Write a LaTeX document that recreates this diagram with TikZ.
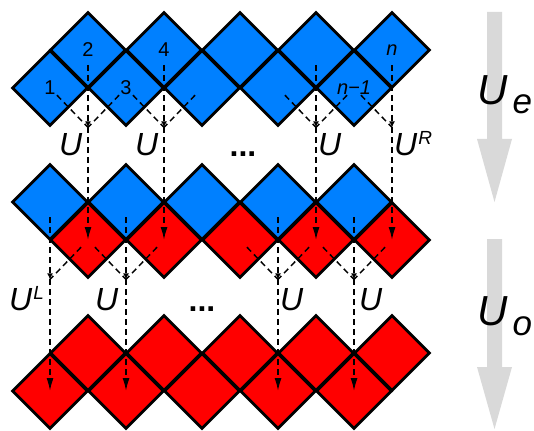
\documentclass[tikz,border=0pt]{standalone}
\usepackage{fontspec}
\setmainfont{Liberation Sans}
\usepackage{tikz}
\usetikzlibrary{
    arrows.meta,
    calc,
    shapes.geometric
}
\definecolor{siteBlue}{RGB}{0, 128, 255}
\definecolor{siteRed}{RGB}{255, 0, 0}
\definecolor{stepGray}{RGB}{217, 217, 217}

\tikzset{
    site/.style={diamond, draw=black, line width=2.8pt, inner sep=0pt,
        minimum width=76pt, minimum height=76pt, font=\fontsize{20}{20}\selectfont},
    link/.style={line width=1.5pt, dash pattern=on 6pt off 4pt},
    meetTip/.style={-{Latex[length=6pt, width=6pt]}},
    dropTip/.style={-{Latex[length=13pt, width=7pt]}},
    glabel/.style={inner sep=0pt, anchor=base west, font=\fontsize{32}{32}\selectfont}
}

\begin{document}
\begin{tikzpicture}[x=1pt, y=-1pt]
    \useasboundingbox (0,0) rectangle (534,430);

    % three rows of sites: before U_e, between, after U_o
    \foreach \i/\lab in {1/1, 2/2, 3/3, 4/4, 5/{}, 6/{}, 7/{}, 8/{}, 9/{\textit{n−1}}, 10/{\textit{n}}} {
        \pgfmathsetmacro{\xc}{12+38*\i}
        \ifodd\i
            \node[site, fill=siteBlue] (t\i) at (\xc,88) {\lab};
            \node[site, fill=siteBlue] (m\i) at (\xc,202) {};
            \node[site, fill=siteRed] (b\i) at (\xc,391) {};
        \else
            \node[site, fill=siteBlue] (t\i) at (\xc,50) {\lab};
            \node[site, fill=siteRed] (m\i) at (\xc,240) {};
            \node[site, fill=siteRed] (b\i) at (\xc,353) {};
        \fi
    }

    % meeting points of the gates
    \foreach \k in {2,4,8,10}
        \coordinate (tg\k) at (t\k |- t1.south);
    \foreach \k in {1,3,7,9}
        \coordinate (mg\k) at (m\k |- m2.south);

    % U_e step
    \foreach \k/\l/\r in {2/1/3, 4/3/5, 8/7/9} {
        \draw[link, shorten <=10pt] (t\l.center) -- (tg\k);
        \draw[link, shorten <=10pt] (t\r.center) -- (tg\k);
    }
    \draw[link, shorten <=10pt] (t9.center) -- (tg10);
    \foreach \k in {2,4,8,10} {
        \draw[link, meetTip, shorten <=15pt] (t\k.center) -- (tg\k);
        \draw[link, dropTip] (tg\k) -- (m\k.center);
    }

    % U_o step
    \foreach \k/\l/\r in {3/2/4, 7/6/8, 9/8/10} {
        \draw[link, shorten <=10pt] (m\l.center) -- (mg\k);
        \draw[link, shorten <=10pt] (m\r.center) -- (mg\k);
    }
    \draw[link, shorten <=10pt] (m2.center) -- (mg1);
    \foreach \k in {1,3,7,9} {
        \draw[link, meetTip, shorten <=15pt] (m\k.center) -- (mg\k);
        \draw[link, dropTip] (mg\k) -- (b\k.center);
    }

    % gate labels
    \node[glabel] (ua) at (59,156) {\textit{U}};
    \node[glabel] (ub) at (135,156) {\textit{U}};
    \node[glabel] (uc) at (318,156) {\textit{U}};
    \node[glabel] (ur) at (394,156) {\textit{U}\hspace{1pt}\raisebox{11pt}{\fontsize{19}{19}\selectfont\textit{R}}};
    \node[glabel, anchor=base] (dta) at (243,157) {\textbf{...}};
    \node[glabel] (ul) at (9,310) {\textit{U}\hspace{1pt}\raisebox{11pt}{\fontsize{19}{19}\selectfont\textit{L}}};
    \node[glabel] (ud) at (95,310) {\textit{U}};
    \node[glabel] (uf) at (280,310) {\textit{U}};
    \node[glabel] (ug) at (359,310) {\textit{U}};
    \node[glabel, anchor=base] (dtb) at (202,311) {\textbf{...}};

    % big arrows on the right
    \foreach \ya/\yb/\yc in {12/139/202, 239/367/429}
        \fill[stepGray] (487,\ya) -- (502,\ya) -- (502,\yb) -- (512,\yb)
            -- (494.5,\yc) -- (477,\yb) -- (487,\yb) -- cycle;
    \node[anchor=base west, inner sep=0pt, font=\fontsize{42}{42}\selectfont] (ue) at (477,105)
        {\textit{U}\hspace{5pt}\raisebox{-9pt}{\fontsize{35}{35}\selectfont\textit{e}}};
    \node[anchor=base west, inner sep=0pt, font=\fontsize{42}{42}\selectfont] (uo) at (477,325)
        {\textit{U}\hspace{5pt}\raisebox{-10pt}{\fontsize{35}{35}\selectfont\textit{o}}};
\end{tikzpicture}
\end{document}
